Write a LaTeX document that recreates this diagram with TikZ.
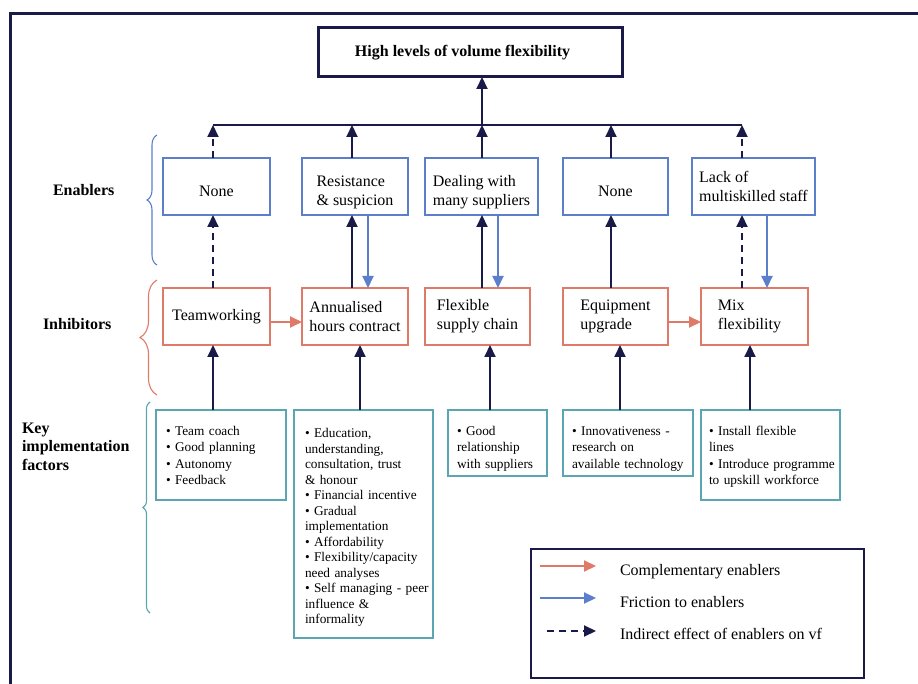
\documentclass[tikz,border=0pt]{standalone}
\usepackage{fontspec}
\setmainfont{Liberation Serif}
\usetikzlibrary{arrows.meta,decorations.pathreplacing}

\definecolor{navy}{HTML}{1A1A48}
\definecolor{enblue}{HTML}{5B7FCB}
\definecolor{inred}{HTML}{E07A68}
\definecolor{keyteal}{HTML}{5CA6B3}

\begin{document}
\begin{tikzpicture}[x=1pt,y=-1pt,
  every node/.style={inner sep=0pt, outer sep=0pt},
  headtip/.style={-{Triangle[width=11pt,length=12pt]}},
  link/.style={navy, line width=2pt, headtip},
  indirect/.style={link, dash pattern=on 7pt off 5pt},
  friction/.style={enblue, line width=2pt, headtip},
  complement/.style={inred, line width=2pt, headtip},
  boxtext/.style={font=\fontsize{16}{19}\selectfont, align=left},
  enabler/.style={draw=enblue, line width=1.8pt, minimum height=57pt, boxtext},
  inhibitor/.style={draw=inred, line width=1.8pt, minimum height=57pt, boxtext},
  keybox/.style={draw=keyteal, line width=1.6pt, anchor=north west},
  bullets/.style={font=\fontsize{13.3}{16.6}\selectfont, anchor=base west, align=left, text width=#1},
  rowlabel/.style={font=\fontsize{16}{18.5}\selectfont\bfseries, anchor=base west, align=left, text width=115pt},
  legendtext/.style={font=\fontsize{16}{19}\selectfont, anchor=base west},
  bracket/.style={decorate, decoration={brace, amplitude=#1}, line width=1.1pt}
]
\useasboundingbox (0,0) rectangle (918,684);
\fill[white] (0,0) rectangle (918,684);

% outer frame
\draw[navy, line width=3pt] (10.5,690) -- (10.5,13.5) -- (925,13.5);

% goal
\node[draw=navy, line width=3pt, minimum width=304pt, minimum height=49pt,
      font=\fontsize{16}{19}\selectfont\bfseries] (goal) at (470,52.5)
      {High levels of volume flexibility\hspace*{15pt}};

% enablers
\node[enabler, minimum width=107pt, text height=19.5pt] (e1) at (216.5,186.5) {None};
\node[enabler, minimum width=106pt, text height=42pt] (e2) at (355,186.5) {Resistance\\\& suspicion};
\node[enabler, minimum width=113pt, text height=42pt] (e3) at (481.5,186.5) {Dealing with\\many suppliers};
\node[enabler, minimum width=105pt, text height=19.5pt] (e4) at (615.5,186.5) {None};
\node[enabler, minimum width=123pt] (e5) at (753.5,186.5) {Lack of\\multiskilled staff};

% inhibitors
\node[inhibitor, minimum width=107pt] (i1) at (216.5,316.5) {Teamworking};
\node[inhibitor, minimum width=106pt] (i2) at (355,316.5) {Annualised\\hours contract};
\node[inhibitor, minimum width=105pt] (i3) at (477.5,316.5) {Flexible\\supply chain};
\node[inhibitor, minimum width=105pt] (i4) at (615.5,316.5) {Equipment\\upgrade};
\node[inhibitor, minimum width=107pt] (i5) at (754.5,316.5) {Mix\\flexibility\hspace*{10pt}};

% key implementation factors
\node[keybox, minimum width=130pt, minimum height=90pt] (k1) at (156,410) {};
\node[keybox, minimum width=139pt, minimum height=228pt] (k2) at (294,410) {};
\node[keybox, minimum width=99pt, minimum height=66pt] (k3) at (448,410) {};
\node[keybox, minimum width=130pt, minimum height=66pt] (k4) at (563,410) {};
\node[keybox, minimum width=139pt, minimum height=90pt] (k5) at (701,410) {};

\node[bullets=118pt] (k1t) at (166,435)
  {\textbullet{} Team coach\\\textbullet{} Good planning\\\textbullet{} Autonomy\\\textbullet{} Feedback};
\node[bullets=128pt, font=\fontsize{13.3}{15.5}\selectfont] (k2t) at (305,437.5)
  {\textbullet{} Education,\\understanding,\\consultation, trust\\\& honour\\\textbullet{} Financial incentive\\\textbullet{} Gradual\\implementation\\\textbullet{} Affordability\\\textbullet{} Flexibility/capacity\\need analyses\\\textbullet{} Self managing - peer\\influence \&\\informality};
\node[bullets=90pt] (k3t) at (457,435)
  {\textbullet{} Good\\relationship\\with suppliers};
\node[bullets=120pt] (k4t) at (572,435)
  {\textbullet{} Innovativeness -\\research on\\available technology};
\node[bullets=132pt] (k5t) at (709,435)
  {\textbullet{} Install flexible\\lines\\\textbullet{} Introduce programme\\to upskill workforce};

% row labels and braces
\node[rowlabel] (lenab) at (53,196) {Enablers};
\node[rowlabel] (linhib) at (43,330) {Inhibitors};
\node[rowlabel] (lkey) at (22,433) {Key\\implementation\\factors};

\draw[bracket=10pt, enblue] (157,265) -- (157,135);
\draw[bracket=17pt, inred] (157,395) -- (157,280);
\draw[bracket=7pt, keyteal] (150,613) -- (150,402);

% column positions on the collecting bar
\coordinate (t1) at (213,125);
\coordinate (t2) at (352,125);
\coordinate (t3) at (482,125);
\coordinate (t4) at (611,125);
\coordinate (t5) at (742,125);
\coordinate (f2) at (368,125);
\coordinate (f3) at (498,125);
\coordinate (f5) at (767,125);
\coordinate (q1) at (213,125);
\coordinate (q2) at (360,125);
\coordinate (q3) at (490,125);
\coordinate (q4) at (620,125);
\coordinate (q5) at (750,125);

% collecting bar and effect on the goal
\draw[navy, line width=2pt] (t1) -- (t5);
\draw[link] (t3) -- (t3 |- goal.south);

% enablers to the bar
\draw[indirect] (t1 |- e1.north) -- (t1);
\draw[link] (t2 |- e2.north) -- (t2);
\draw[link] (t3 |- e3.north) -- (t3);
\draw[link] (t4 |- e4.north) -- (t4);
\draw[indirect] (t5 |- e5.north) -- (t5);

% inhibitors to enablers
\draw[indirect] (t1 |- i1.north) -- (t1 |- e1.south);
\draw[link] (t2 |- i2.north) -- (t2 |- e2.south);
\draw[link] (t3 |- i3.north) -- (t3 |- e3.south);
\draw[link] (t4 |- i4.north) -- (t4 |- e4.south);
\draw[indirect] (t5 |- i5.north) -- (t5 |- e5.south);

% friction from enablers back to inhibitors
\draw[friction] (f2 |- e2.south) -- (f2 |- i2.north);
\draw[friction] (f3 |- e3.south) -- (f3 |- i3.north);
\draw[friction] (f5 |- e5.south) -- (f5 |- i5.north);

% complementary links
\draw[complement] ([yshift=-5.5pt]i1.east) -- ([yshift=-5.5pt]i2.west);
\draw[complement] ([yshift=-5.5pt]i4.east) -- ([yshift=-5.5pt]i5.west);

% key factors to inhibitors
\draw[link] (q1 |- k1.north) -- (q1 |- i1.south);
\draw[link] (q2 |- k2.north) -- (q2 |- i2.south);
\draw[link] (q3 |- k3.north) -- (q3 |- i3.south);
\draw[link] (q4 |- k4.north) -- (q4 |- i4.south);
\draw[link] (q5 |- k5.north) -- (q5 |- i5.south);

% legend
\node[draw=navy, line width=1.5pt, anchor=north west, minimum width=333pt, minimum height=129pt] (legend) at (531,549) {};
\coordinate (la1) at (540,566);
\coordinate (la2) at (596,566);
\coordinate (lb1) at (540,598);
\coordinate (lb2) at (596,598);
\coordinate (lc1) at (547,631);
\coordinate (lc2) at (596,631);
\draw[complement] (la1) -- (la2);
\draw[friction] (lb1) -- (lb2);
\draw[indirect] (lc1) -- (lc2);
\node[legendtext] (lta) at (620,575) {Complementary enablers};
\node[legendtext] (ltb) at (620,607) {Friction to enablers};
\node[legendtext] (ltc) at (620,639) {Indirect effect of enablers on vf};
\end{tikzpicture}
\end{document}
